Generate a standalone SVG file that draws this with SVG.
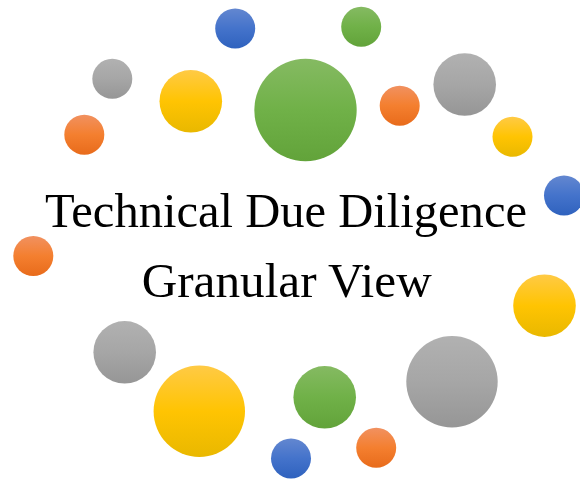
<svg xmlns="http://www.w3.org/2000/svg" width="580" height="481" viewBox="0 0 580 481">
<defs>
<linearGradient id="gGreen" x1="0" y1="0" x2="0" y2="1"><stop offset="0" stop-color="#85ba62"/><stop offset="0.5" stop-color="#70b148"/><stop offset="1" stop-color="#62a33a"/></linearGradient>
<linearGradient id="gOrange" x1="0" y1="0" x2="0" y2="1"><stop offset="0" stop-color="#f19160"/><stop offset="0.5" stop-color="#f47f2f"/><stop offset="1" stop-color="#e86b1b"/></linearGradient>
<linearGradient id="gBlue" x1="0" y1="0" x2="0" y2="1"><stop offset="0" stop-color="#6387d0"/><stop offset="0.5" stop-color="#4473cb"/><stop offset="1" stop-color="#2f62be"/></linearGradient>
<linearGradient id="gGray" x1="0" y1="0" x2="0" y2="1"><stop offset="0" stop-color="#b1b1b1"/><stop offset="0.5" stop-color="#a6a6a6"/><stop offset="1" stop-color="#969696"/></linearGradient>
<linearGradient id="gYellow" x1="0" y1="0" x2="0" y2="1"><stop offset="0" stop-color="#ffca45"/><stop offset="0.5" stop-color="#ffc402"/><stop offset="1" stop-color="#e9b800"/></linearGradient>
</defs>
<style>
.g{fill:url(#gGreen)} .o{fill:url(#gOrange)} .b{fill:url(#gBlue)} .k{fill:url(#gGray)} .y{fill:url(#gYellow)}
.t{font-family:"Liberation Serif","DejaVu Serif",serif;font-size:49px;fill:#000;text-anchor:middle}
</style>
<rect width="580" height="481" fill="#fff"/>
<g id="bubbles">
<circle class="b" cx="235.2" cy="28.5" r="20"/>
<circle class="g" cx="361.2" cy="26.8" r="20"/>
<circle class="k" cx="112.3" cy="78.8" r="20"/>
<circle class="y" cx="190.8" cy="101.3" r="31.3"/>
<circle class="g" cx="305.5" cy="110" r="51.2"/>
<circle class="o" cx="399.7" cy="105.7" r="20"/>
<circle class="k" cx="464.7" cy="84.5" r="31.3"/>
<circle class="y" cx="512.5" cy="136.8" r="20"/>
<circle class="o" cx="84.3" cy="134.7" r="20"/>
<circle class="b" cx="564" cy="195.5" r="20"/>
<circle class="o" cx="33.3" cy="256" r="20"/>
<circle class="y" cx="544.5" cy="305.7" r="31.3"/>
<circle class="k" cx="124.7" cy="352.3" r="31.3"/>
<circle class="y" cx="199.3" cy="411.3" r="45.7"/>
<circle class="g" cx="324.7" cy="397.3" r="31.3"/>
<circle class="k" cx="452" cy="381.8" r="45.7"/>
<circle class="b" cx="291" cy="458.4" r="20"/>
<circle class="o" cx="376.2" cy="447.8" r="20"/>
</g>
<g id="title">
<text class="t" x="286" y="227" textLength="482" lengthAdjust="spacingAndGlyphs">Technical Due Diligence</text>
<text class="t" x="286.7" y="296.7" textLength="290" lengthAdjust="spacingAndGlyphs">Granular View</text>
</g>
</svg>
